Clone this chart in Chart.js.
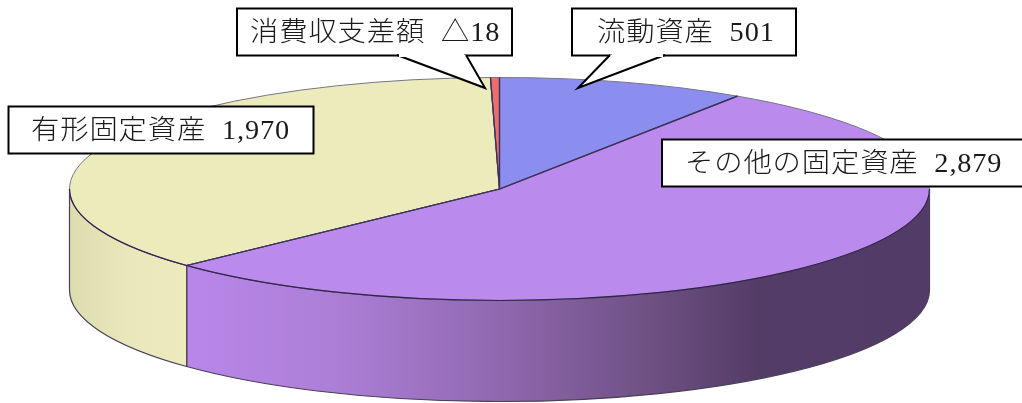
<!DOCTYPE html>
<html>
<head>
<meta charset="utf-8">
<script src="https://cdn.jsdelivr.net/npm/chart.js@4"></script>
<style>
  html, body { margin: 0; padding: 0; background: #fff; }
  canvas { display: block; }
</style>
</head>
<body>
<canvas id="pieChart" width="1022" height="403"></canvas>
<script>
// values (△18 is a negative balance, sized by its absolute value)
const categories = ['流動資産', 'その他の固定資産', '有形固定資産', '消費収支差額'];
const seriesValues = [501, 2879, 1970, 18];
const valueLabels = ['501', '2,879', '1,970', '△18'];

const sliceColors = ['#8b8def', '#bb8aed', '#ebebbc', '#ee6e6e'];
const wallStops = [
    [[0, '#6a6ac0'], [1, '#6a6ac0']],
    [[0, '#b986ea'], [0.2, '#ac7fd6'], [0.42, '#9068b0'], [0.62, '#6f5184'], [0.77, '#533c66'], [1, '#523b66']],
    [[0, '#dcdcaf'], [0.5, '#e8e8ba'], [1, '#ebebbd']],
    [[0, '#c05050'], [1, '#c05050']]
];

const ELLIPSE_SQUASH = 111.5 / 430;
const DEPTH = 101;

// callout boxes, same order as categories
const callouts = [
    { x: 572, y: 8.5, w: 224, h: 47, textX: 597, tail: [[610, 55], [578, 88], [665, 55]] },
    { x: 662, y: 139.5, w: 365, h: 47, textX: 685 },
    { x: 8.5, y: 106.5, w: 305, h: 47, textX: 31 },
    { x: 237, y: 8.5, w: 275, h: 47, textX: 250, tail: [[397, 55], [485, 88], [466, 55]] }
];

function slicePath(ctx, arc) {
    const ry = arc.outerRadius * ELLIPSE_SQUASH;
    ctx.beginPath();
    ctx.moveTo(arc.x, arc.y);
    ctx.ellipse(arc.x, arc.y, arc.outerRadius, ry, 0, arc.startAngle, arc.endAngle);
    ctx.closePath();
}

// side wall of the disc, only the part facing the viewer
function drawWalls(chart) {
    const ctx = chart.ctx;
    const arcs = chart.getDatasetMeta(0).data;
    arcs.forEach(function (arc, i) {
        const from = Math.max(arc.startAngle, 0);
        const to = Math.min(arc.endAngle, Math.PI);
        if (to <= from) return;
        const r = arc.outerRadius;
        const ry = r * ELLIPSE_SQUASH;
        const xa = arc.x + r * Math.cos(from);
        const xb = arc.x + r * Math.cos(to);
        const grad = ctx.createLinearGradient(Math.min(xa, xb), 0, Math.max(xa, xb), 0);
        wallStops[i].forEach(s => grad.addColorStop(s[0], s[1]));
        ctx.beginPath();
        ctx.ellipse(arc.x, arc.y, r, ry, 0, from, to);
        ctx.ellipse(arc.x, arc.y + DEPTH, r, ry, 0, to, from, true);
        ctx.closePath();
        ctx.fillStyle = grad;
        ctx.fill();
        ctx.lineWidth = 1.2;
        ctx.strokeStyle = '#4a4058';
        ctx.stroke();
    });
}

function drawOutlines(chart) {
    const ctx = chart.ctx;
    const arcs = chart.getDatasetMeta(0).data;
    arcs.forEach(function (arc) {
        slicePath(ctx, arc);
        ctx.lineWidth = 1;
        ctx.strokeStyle = '#77748a';
        ctx.stroke();
        // radial edges are darker than the far rim
        ctx.beginPath();
        ctx.moveTo(arc.x + arc.outerRadius * Math.cos(arc.startAngle), arc.y + arc.outerRadius * ELLIPSE_SQUASH * Math.sin(arc.startAngle));
        ctx.lineTo(arc.x, arc.y);
        ctx.lineTo(arc.x + arc.outerRadius * Math.cos(arc.endAngle), arc.y + arc.outerRadius * ELLIPSE_SQUASH * Math.sin(arc.endAngle));
        ctx.lineWidth = 1.2;
        ctx.strokeStyle = '#3a2f5a';
        ctx.stroke();
    });
    // near rim
    const a = arcs[0];
    ctx.beginPath();
    ctx.ellipse(a.x, a.y, a.outerRadius, a.outerRadius * ELLIPSE_SQUASH, 0, 0, Math.PI);
    ctx.lineWidth = 1.2;
    ctx.strokeStyle = '#33244f';
    ctx.stroke();
}

function drawCallouts(chart) {
    const ctx = chart.ctx;
    callouts.forEach(function (c, i) {
        ctx.save();
        ctx.beginPath();
        ctx.rect(c.x, c.y, c.w, c.h);
        ctx.fillStyle = '#fff';
        ctx.fill();
        ctx.lineWidth = 2;
        ctx.strokeStyle = '#000';
        ctx.stroke();
        if (c.tail) {
            ctx.beginPath();
            ctx.moveTo(c.tail[0][0], c.tail[0][1]);
            ctx.lineTo(c.tail[1][0], c.tail[1][1]);
            ctx.lineTo(c.tail[2][0], c.tail[2][1]);
            ctx.fill();
            ctx.stroke();
            // open the box edge over the tail
            ctx.beginPath();
            ctx.moveTo(c.tail[0][0] + 2, c.y + c.h);
            ctx.lineTo(c.tail[2][0] - 2, c.y + c.h);
            ctx.strokeStyle = '#fff';
            ctx.lineWidth = 3;
            ctx.stroke();
        }
        // the source picture is stretched sideways, so the text is too
        ctx.translate(c.textX, c.y + c.h / 2 + 1.5);
        ctx.scale(1.05, 1);
        ctx.font = '300 27px "Liberation Serif", "Noto Sans CJK JP"';
        ctx.letterSpacing = '0.8px';
        ctx.textAlign = 'left';
        ctx.textBaseline = 'middle';
        ctx.fillStyle = '#1a1a1a';
        ctx.fillText(categories[i] + '  ' + valueLabels[i], 0, 0);
        ctx.restore();
    });
}

const pie3d = {
    id: 'pie3d',
    beforeDatasetsDraw(chart) {
        drawWalls(chart);
        const ctx = chart.ctx;
        const arc = chart.getDatasetMeta(0).data[0];
        ctx.save();
        ctx.translate(0, arc.y);
        ctx.scale(1, ELLIPSE_SQUASH);
        ctx.translate(0, -arc.y);
    },
    afterDatasetsDraw(chart) {
        chart.ctx.restore();
        drawOutlines(chart);
        drawCallouts(chart);
    }
};

new Chart(document.getElementById('pieChart').getContext('2d'), {
    type: 'pie',
    data: {
        labels: categories,
        datasets: [{
            data: seriesValues,
            backgroundColor: sliceColors,
            borderWidth: 0,
            clip: false
        }]
    },
    options: {
        responsive: false,
        animation: false,
        radius: 430,
        layout: { padding: { right: 23, bottom: 25 } },
        plugins: {
            legend: { display: false },
            tooltip: { enabled: false }
        }
    },
    plugins: [pie3d]
});
</script>
</body>
</html>
